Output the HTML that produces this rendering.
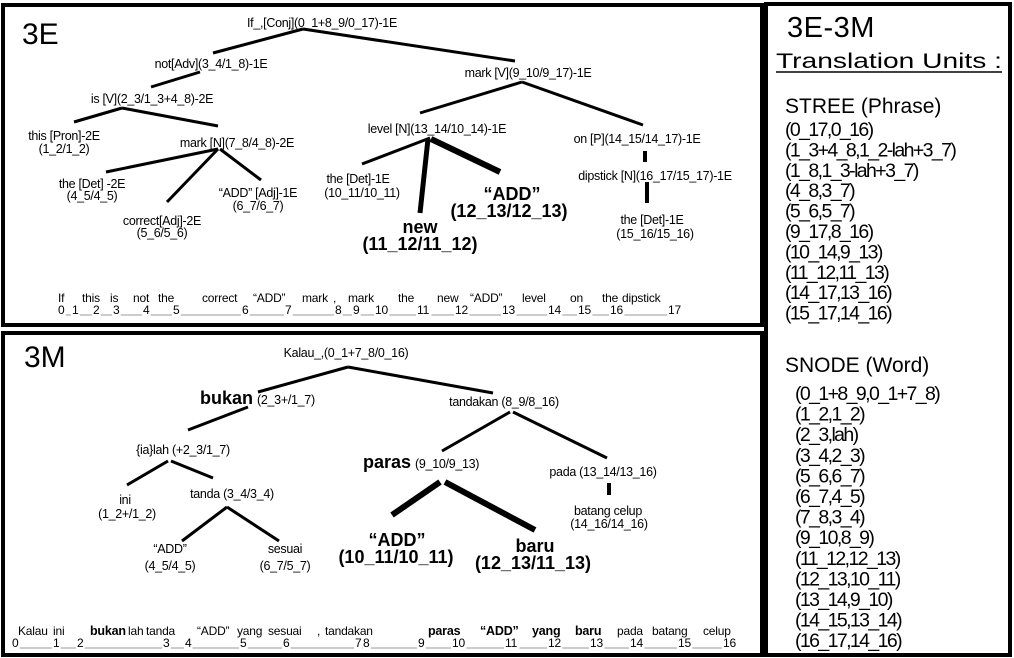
<!DOCTYPE html>
<html><head><meta charset="utf-8"><style>
html,body{margin:0;padding:0;background:#fff;}
svg{display:block;font-family:"Liberation Sans",Arial,sans-serif;}
.s{font-size:12.5px;letter-spacing:-0.3px;}
.b{font-size:18px;font-weight:bold;}
.w{font-size:12px;letter-spacing:-0.2px;}
.r{font-size:19.5px;letter-spacing:-1.6px;}
line{stroke:#000;stroke-width:3;}
</style></head><body>
<svg id="svg" width="1014" height="658" viewBox="0 0 1014 658">
<rect x="3" y="5" width="759" height="320" fill="none" stroke="#000" stroke-width="4"/>
<rect x="3" y="333" width="759" height="322" fill="none" stroke="#000" stroke-width="4"/>
<rect x="766" y="4" width="244" height="651" fill="none" stroke="#000" stroke-width="4"/>

<!-- English tree -->
<text x="22" y="44" font-size="30">3E</text>
<g>
<line x1="303" y1="29" x2="213" y2="53"/><line x1="303" y1="29" x2="515" y2="61"/>
<line x1="200" y1="72" x2="151" y2="87"/>
<line x1="122" y1="108" x2="74" y2="122"/><line x1="122" y1="108" x2="218" y2="126"/>
<line x1="218" y1="149" x2="106" y2="172"/><line x1="218" y1="149" x2="167" y2="202"/><line x1="220" y1="149" x2="261" y2="180"/>
<line x1="522" y1="82" x2="420" y2="113"/><line x1="522" y1="82" x2="643" y2="125"/>
<line x1="430" y1="138" x2="362" y2="164"/>
<line x1="428" y1="139" x2="420" y2="213" style="stroke-width:5"/>
<line x1="431" y1="139" x2="500" y2="172" style="stroke-width:6"/>
<line x1="645" y1="151" x2="645" y2="162" style="stroke-width:4"/>
<line x1="647" y1="182" x2="647" y2="203" style="stroke-width:4"/>
</g>
<g text-anchor="middle" class="s">
<text x="322" y="27">If_,[Conj](0_1+8_9/0_17)-1E</text>
<text x="211" y="68">not[Adv](3_4/1_8)-1E</text>
<text x="152" y="103">is [V](2_3/1_3+4_8)-2E</text>
<text x="64" y="140">this [Pron]-2E</text>
<text x="64" y="153">(1_2/1_2)</text>
<text x="237" y="147">mark [N](7_8/4_8)-2E</text>
<text x="92" y="188">the [Det] -2E</text>
<text x="92" y="200">(4_5/4_5)</text>
<text x="162" y="225">correct[Adj]-2E</text>
<text x="162" y="237">(5_6/5_6)</text>
<text x="258" y="197">“ADD” [Adj]-1E</text>
<text x="258" y="210">(6_7/6_7)</text>
<text x="528" y="77">mark [V](9_10/9_17)-1E</text>
<text x="437" y="133">level [N](13_14/10_14)-1E</text>
<text x="358" y="183">the [Det]-1E</text>
<text x="362" y="197">(10_11/10_11)</text>
<text x="637" y="143">on [P](14_15/14_17)-1E</text>
<text x="655" y="180">dipstick [N](16_17/15_17)-1E</text>
<text x="652" y="224">the [Det]-1E</text>
<text x="655" y="238">(15_16/15_16)</text>
</g>
<g text-anchor="middle" class="b">
<text x="512" y="200">“ADD”</text>
<text x="509" y="217">(12_13/12_13)</text>
<text x="420" y="233">new</text>
<text x="420" y="250">(11_12/11_12)</text>
</g>
<g id="enSent" class="w"></g>

<!-- Malay tree -->
<text x="24" y="367" font-size="30">3M</text>
<g>
<line x1="348" y1="367" x2="258" y2="392"/><line x1="348" y1="367" x2="493" y2="393"/>
<line x1="248" y1="407" x2="188" y2="430"/>
<line x1="168" y1="461" x2="127" y2="485"/><line x1="171" y1="461" x2="213" y2="478"/>
<line x1="227" y1="507" x2="182" y2="541"/><line x1="227" y1="507" x2="279" y2="541"/>
<line x1="510" y1="412" x2="442" y2="451"/><line x1="513" y1="412" x2="607" y2="458"/>
<line x1="440" y1="482" x2="392" y2="515" style="stroke-width:6"/>
<line x1="445" y1="482" x2="535" y2="530" style="stroke-width:6"/>
<line x1="609" y1="483" x2="609" y2="495" style="stroke-width:4"/>
</g>
<g text-anchor="middle" class="s">
<text x="346" y="357">Kalau_,(0_1+7_8/0_16)</text>
<text x="183" y="454">{ia}lah (+2_3/1_7)</text>
<text x="125" y="504">ini</text>
<text x="127" y="518">(1_2+/1_2)</text>
<text x="232" y="498">tanda (3_4/3_4)</text>
<text x="170" y="553">“ADD”</text>
<text x="170" y="570">(4_5/4_5)</text>
<text x="285" y="553">sesuai</text>
<text x="285" y="570">(6_7/5_7)</text>
<text x="504" y="406">tandakan (8_9/8_16)</text>
<text x="603" y="476">pada (13_14/13_16)</text>
<text x="608" y="515">batang celup</text>
<text x="609" y="528">(14_16/14_16)</text>
</g>
<text x="200" y="404"><tspan class="b">bukan</tspan><tspan class="s" dx="4">(2_3+/1_7)</tspan></text>
<text x="363" y="468"><tspan class="b">paras</tspan><tspan class="s" dx="4">(9_10/9_13)</tspan></text>
<g text-anchor="middle" class="b">
<text x="397" y="546">“ADD”</text>
<text x="396" y="563">(10_11/10_11)</text>
<text x="535" y="552">baru</text>
<text x="533" y="569">(12_13/11_13)</text>
</g>
<g id="msSent" class="w"></g>

<!-- Right panel -->
<text x="787" y="37" font-size="29" letter-spacing="0.5">3E-3M</text>
<text x="776" y="68" font-size="21" textLength="226" lengthAdjust="spacingAndGlyphs">Translation Units :</text>
<line x1="776" y1="72" x2="1002" y2="72" style="stroke-width:1.5"/>
<text x="785" y="113" font-size="21">STREE (Phrase)</text>
<g id="stree" class="r"></g>
<text x="785" y="372" font-size="21">SNODE (Word)</text>
<g id="snode" class="r"></g>
</svg>
<script>
var NS="http://www.w3.org/2000/svg";
var streeItems=["(0_17,0_16)","(1_3+4_8,1_2-lah+3_7)","(1_8,1_3-lah+3_7)","(4_8,3_7)","(5_6,5_7)","(9_17,8_16)","(10_14,9_13)","(11_12,11_13)","(14_17,13_16)","(15_17,14_16)"];
var snodeItems=["(0_1+8_9,0_1+7_8)","(1_2,1_2)","(2_3,lah)","(3_4,2_3)","(5_6,6_7)","(6_7,4_5)","(7_8,3_4)","(9_10,8_9)","(11_12,12_13)","(12_13,10_11)","(13_14,9_10)","(14_15,13_14)","(16_17,14_16)"];
var enWords=["If","this","is","not","the","correct","“ADD”","mark",",","mark","the","new","“ADD”","level","on","the","dipstick"];
var enWordX=[58,82,110,133,158,202,253,302,333,348,398,437,470,522,570,602,622];
var enIdx=[58,72,93,113,143,173,242,285,335,353,375,417,455,502,548,578,610,668];
var msWords=["Kalau","ini","bukan","lah","tanda","“ADD”","yang","sesuai",",","tandakan","paras","“ADD”","yang","baru","pada","batang","celup"];
var msBold=[0,0,1,0,0,0,0,0,0,0,1,1,1,1,0,0,0];
var msWordX=[18,53,90,128,146,197,237,268,317,325,428,480,532,575,617,652,703];
var msIdx=[12,53,77,163,185,240,283,355,363,418,452,505,548,590,630,678,723];
function list(id,items,x,y0,dy){
  var g=document.getElementById(id);
  items.forEach(function(s,i){
    var t=document.createElementNS(NS,"text");
    t.setAttribute("x",x);t.setAttribute("y",y0+dy*i);t.textContent=s;
    
    
    g.appendChild(t);
  });
}
list("stree",streeItems,785,136,20.4);
list("snode",snodeItems,795,400,20.6);
function sentence(id,words,wx,bold,idx,yw,yi){
  var g=document.getElementById(id);
  words.forEach(function(w,i){
    var t=document.createElementNS(NS,"text");
    t.setAttribute("x",wx[i]);t.setAttribute("y",yw);t.textContent=w;
    if(bold&&bold[i]){t.setAttribute("font-weight","bold");t.setAttribute("font-size","12.5");}
    
    
    g.appendChild(t);
  });
  idx.forEach(function(v,i){
    var t=document.createElementNS(NS,"text");
    t.setAttribute("x",v);t.setAttribute("y",yi);t.textContent=String(i);
    
    
    g.appendChild(t);
    if(i<idx.length-1){
      var w=String(i).length*6.7;
      var l=document.createElementNS(NS,"line");
      l.setAttribute("x1",v+w+1);l.setAttribute("x2",idx[i+1]-1);
      l.setAttribute("y1",yi+1);l.setAttribute("y2",yi+1);
      l.setAttribute("style","stroke:#999;stroke-width:1");
      
      
      g.appendChild(l);
    }
  });
}
sentence("enSent",enWords,enWordX,null,enIdx,302,314);
sentence("msSent",msWords,msWordX,msBold,msIdx,635,647);
</script>
</body></html>
